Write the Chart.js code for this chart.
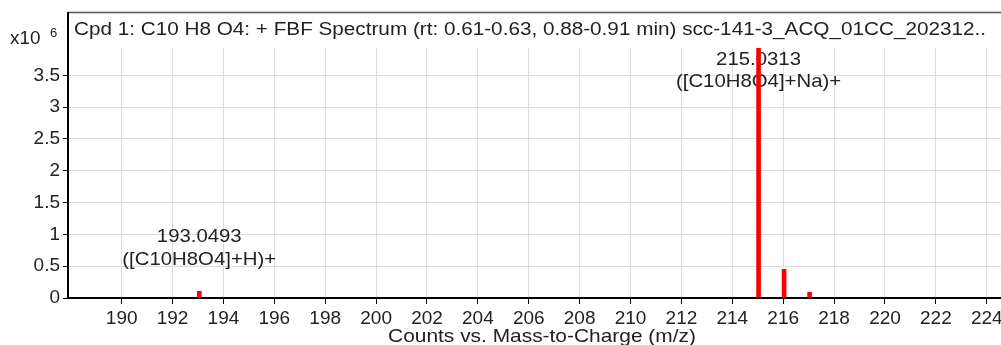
<!DOCTYPE html>
<html>
<head>
<meta charset="utf-8">
<script src="https://cdn.jsdelivr.net/npm/chart.js@4.4.1/dist/chart.umd.min.js"></script>
<style>
  body { margin: 0; background: #fff; overflow: hidden; }
  #wrap { width: 1001px; height: 345px; position: relative; }
</style>
</head>
<body>
<div id="wrap"><canvas id="myChart"></canvas></div>
<script>
// ピークデータ (m/z と強度)
const mzValues = [193.0493, 215.0313, 216.0345, 217.0378];
const counts = [0.105e6, 3.93e6, 0.45e6, 0.09e6];
// ピークのラベル
const labelMz = [193.0493, 215.0313];
const labelTop = ['193.0493', '215.0313'];
const labelBottom = ['([C10H8O4]+H)+', '([C10H8O4]+Na)+'];
const labelY = [0.6e6, 3.39e6]; // 2行目の高さ (counts)
// 目盛り
const xTicks = [190, 192, 194, 196, 198, 200, 202, 204, 206, 208, 210, 212, 214, 216, 218, 220, 222, 224];
const yTicks = [0, 0.5e6, 1e6, 1.5e6, 2e6, 2.5e6, 3e6, 3.5e6];
const titleText = 'Cpd 1: C10 H8 O4: + FBF Spectrum (rt: 0.61-0.63, 0.88-0.91 min) scc-141-3_ACQ_01CC_202312..';
const xTitle = 'Counts vs. Mass-to-Charge (m/z)';
const xMin = 187.93, xMax = 224.56;
const yMax = 3.93e6;

const FONT = 'Arial, "Liberation Sans", sans-serif';

// 横に少し引き伸ばした文字
function wideText(ctx, text, x, y, align, sx) {
  const w = ctx.measureText(text).width * sx;
  let left = x;
  if (align === 'center') left = x - w / 2;
  ctx.save();
  ctx.translate(left, y);
  ctx.scale(sx, 1);
  ctx.textAlign = 'left';
  ctx.fillText(text, 0, 0);
  ctx.restore();
}

// 枠・タイトル・ラベルを描く
const frame = {
  id: 'frame',
  beforeDatasetsDraw(chart) {
    const ctx = chart.ctx;
    const xs = chart.scales.x, ys = chart.scales.y;
    ctx.save();
    ctx.fillStyle = '#222';
    ctx.font = '18.5px ' + FONT;
    ctx.textBaseline = 'middle';
    for (let i = 0; i < labelMz.length; i++) {
      const px = xs.getPixelForValue(labelMz[i]);
      const py = ys.getPixelForValue(labelY[i]);
      wideText(ctx, labelTop[i], px, py - 22.5, 'center', 1.1);
      wideText(ctx, labelBottom[i], px, py, 'center', 1.1);
    }
    ctx.restore();
  },
  afterDraw(chart) {
    const ctx = chart.ctx;
    const a = chart.chartArea;
    ctx.save();
    // 上の枠線
    ctx.strokeStyle = '#555';
    ctx.lineWidth = 1.5;
    ctx.beginPath();
    ctx.moveTo(68, 12.5);
    ctx.lineTo(chart.width, 12.5);
    ctx.stroke();
    // 左の軸線
    ctx.strokeStyle = '#000';
    ctx.lineWidth = 2;
    ctx.beginPath();
    ctx.moveTo(a.left - 1, 12);
    ctx.lineTo(a.left - 1, a.bottom + 1);
    ctx.stroke();
    ctx.fillStyle = '#222';
    ctx.textBaseline = 'middle';
    // タイトル
    ctx.font = '18px ' + FONT;
    const tw = ctx.measureText(titleText).width;
    wideText(ctx, titleText, 74, 30, 'left', 912 / tw);
    // x軸タイトル
    ctx.font = '18.5px ' + FONT;
    wideText(ctx, xTitle, (a.left + a.right) / 2 + 7, 336.5, 'center', 1.13);
    // x10^6
    ctx.font = '18px ' + FONT;
    wideText(ctx, 'x10', 10, 39, 'left', 1.05);
    ctx.font = '13px ' + FONT;
    ctx.fillText('6', 50, 33);
    ctx.restore();
  }
};

const ctx = document.getElementById('myChart').getContext('2d');
const myChart = new Chart(ctx, {
  type: 'bar',
  data: {
    datasets: [{
      data: mzValues.map((m, i) => ({ x: m, y: counts[i] })),
      backgroundColor: '#ff0000',
      barThickness: 4,
      borderWidth: 0
    }]
  },
  options: {
    responsive: true,
    maintainAspectRatio: false,
    animation: false,
    layout: { padding: { top: 48, left: 0, right: 0, bottom: 0 } },
    plugins: { legend: { display: false }, tooltip: { enabled: false } },
    scales: {
      x: {
        type: 'linear',
        min: xMin,
        max: xMax,
        offset: false,
        afterBuildTicks: s => { s.ticks = xTicks.map(v => ({ value: v })); },
        afterFit: s => { s.height = 47; s.paddingLeft = 0; s.paddingRight = 0; },
        grid: { offset: false, color: '#dcdcdc', tickColor: '#000', tickLength: 6, lineWidth: 1 },
        border: { color: '#000', width: 2 },
        ticks: {
          autoSkip: false,
          maxRotation: 0,
          padding: 3,
          color: '#222',
          font: { family: FONT, size: 19 }
        }
      },
      y: {
        min: 0,
        max: yMax,
        afterBuildTicks: s => { s.ticks = yTicks.map(v => ({ value: v })); },
        afterFit: s => { s.width = 69; s.paddingTop = 0; s.paddingBottom = 0; },
        grid: { color: '#dcdcdc', tickColor: '#000', tickLength: 6, lineWidth: 1 },
        border: { display: false },
        ticks: {
          autoSkip: false,
          padding: 3,
          color: '#222',
          font: { family: FONT, size: 19 },
          callback: v => String(v / 1e6)
        }
      }
    }
  },
  plugins: [frame]
});
</script>
</body>
</html>
